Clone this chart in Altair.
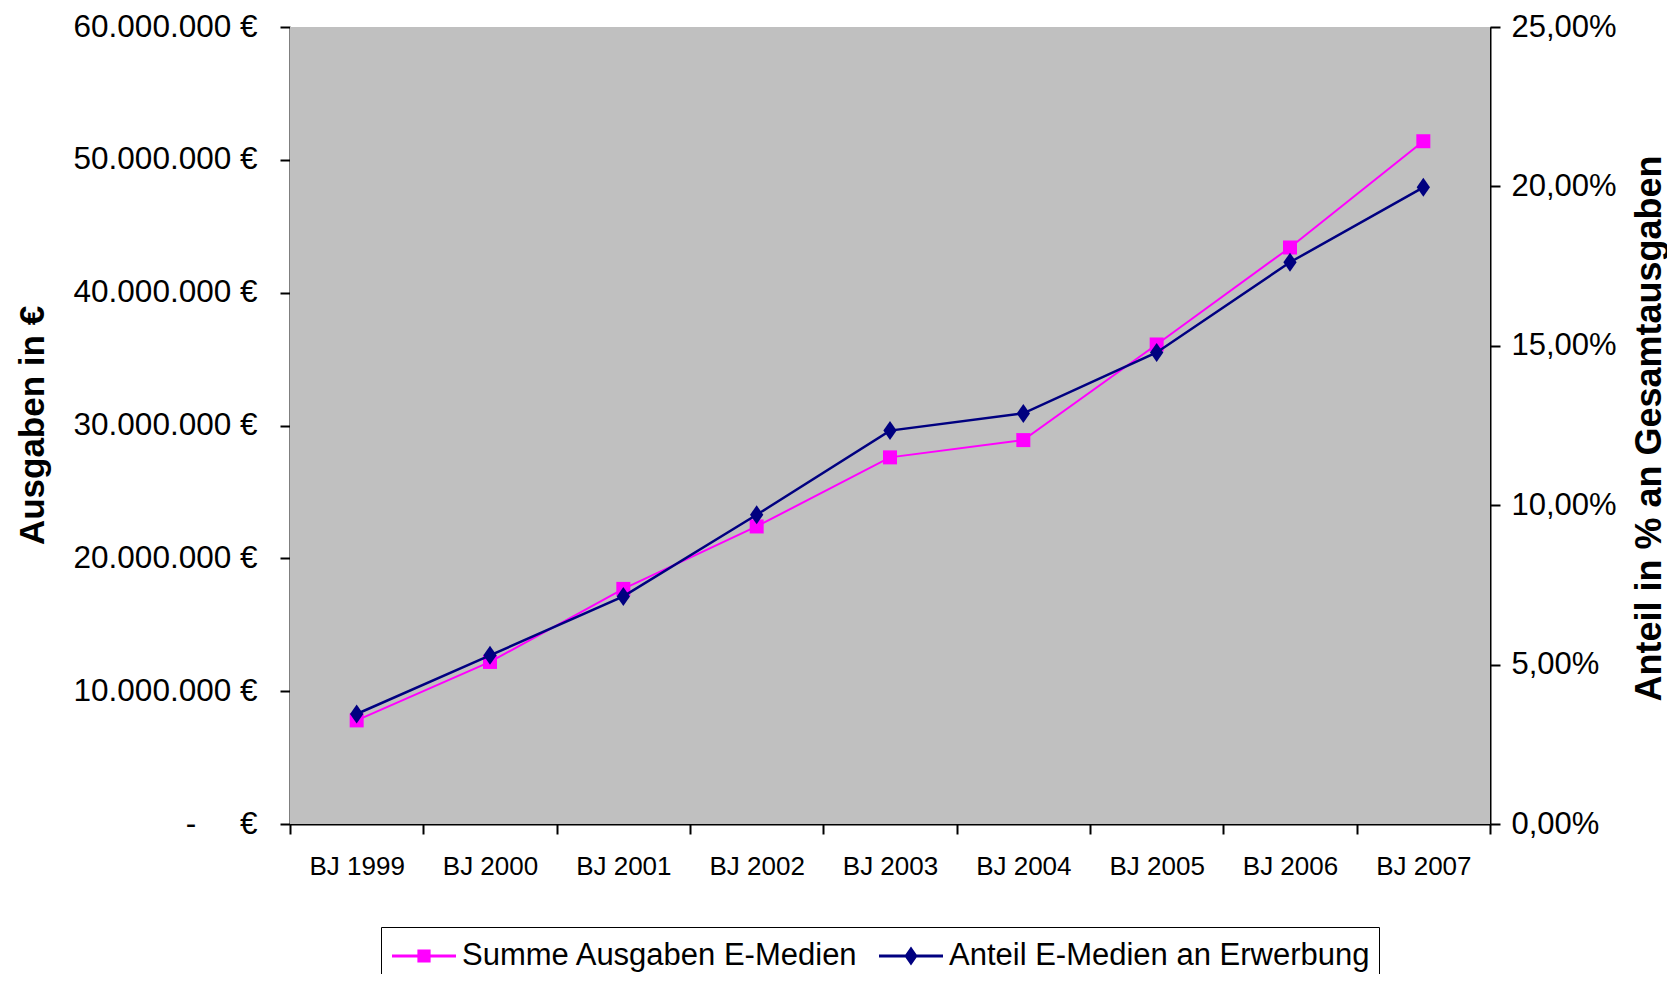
import altair as alt
import pandas as pd

years = ["BJ 1999", "BJ 2000", "BJ 2001", "BJ 2002", "BJ 2003",
         "BJ 2004", "BJ 2005", "BJ 2006", "BJ 2007"]
summe = [7800000, 12200000, 17700000, 22400000, 27600000,
         28900000, 36100000, 43400000, 51400000]
anteil = [3.45, 5.29, 7.14, 9.70, 12.34, 12.88, 14.79, 17.62, 19.97]

series_names = ["Summe Ausgaben E-Medien", "Anteil E-Medien an Erwerbung"]
series_colors = ["#FF00FF", "#000080"]

FONT = "Liberation Sans, Arial"

df = pd.DataFrame({"year": years, "summe": summe, "anteil": anteil})
legend_df = pd.DataFrame({"series": series_names})
plot_area_df = pd.DataFrame({"area": ["plot"]})

diamond = "M0,-1L0.7,0L0,1L-0.7,0Z"
leg_square = "M-0.9,-0.07H2.3V0.07H-0.9Z M0.37,-0.33H1.03V0.33H0.37Z"
leg_diamond = "M-0.9,-0.07H2.3V0.07H-0.9Z M0.7,-0.48L1.03,0L0.7,0.48L0.37,0Z"

x_enc = alt.X(
    "year:N", sort=years,
    scale=alt.Scale(type="band", paddingInner=0, paddingOuter=0),
    axis=alt.Axis(title=None, labelAngle=0, tickBand="extent", tickSize=10,
                  tickWidth=2, tickColor="black", domainWidth=2, domainColor="black",
                  labelPadding=19, labelFontSize=26, labelFont=FONT,
                  labelColor="black", grid=False),
)

left_lbl = ("datum.value == 0 ? '-\u00a0\u00a0\u00a0\u00a0\u00a0\u20ac' : "
            "format(datum.value / 1000000, 'd') + '.000.000 \u20ac'")
right_lbl = "replace(format(datum.value, '.2f'), '.', ',') + '%'"

# plot-area background (Excel grey)
background = alt.Chart(plot_area_df).mark_rect(color="#C0C0C0").encode(
    x=alt.value(0), x2=alt.value("width"),
    y=alt.value(0), y2=alt.value("height"),
)

base = alt.Chart(df).encode(x=x_enc)

line_summe = base.mark_line(
    color="#FF00FF", strokeWidth=2,
    point=alt.OverlayMarkDef(shape="square", size=196, filled=True,
                             color="#FF00FF", opacity=1),
).encode(
    y=alt.Y("summe:Q",
            scale=alt.Scale(domain=[0, 60000000], nice=False),
            axis=alt.Axis(title="Ausgaben in \u20ac",
                          values=[0, 10000000, 20000000, 30000000, 40000000, 50000000, 60000000],
                          labelExpr=left_lbl, grid=False, tickSize=10, tickWidth=2,
                          tickColor="black", domainWidth=2, domainColor="black",
                          labelPadding=23, labelFontSize=31.5, labelFont=FONT,
                          labelColor="black", labelLimit=400,
                          titleFont=FONT, titleFontWeight="bold", titleFontSize=35,
                          titleColor="black", titleAngle=270, titleBaseline="middle",
                          titleX=-258, titleY=398)),
)

line_anteil = base.mark_line(
    color="#000080", strokeWidth=2.5,
    point=alt.OverlayMarkDef(shape=diamond, size=361, filled=True,
                             color="#000080", opacity=1),
).encode(
    y=alt.Y("anteil:Q",
            scale=alt.Scale(domain=[0, 25], nice=False),
            axis=alt.Axis(title="Anteil in % an Gesamtausgaben", orient="right",
                          values=[0, 5, 10, 15, 20, 25],
                          labelExpr=right_lbl, grid=False, tickSize=10, tickWidth=2,
                          tickColor="black", domainWidth=2, domainColor="black",
                          labelPadding=11, labelFontSize=31, labelFont=FONT,
                          labelColor="black", labelLimit=400,
                          titleFont=FONT, titleFontWeight="bold", titleFontSize=36,
                          titleColor="black", titleAngle=270, titleBaseline="middle",
                          titleX=159, titleY=401)),
)

leg = alt.Legend(title=None, orient="none", legendX=91, legendY=900,
                 direction="horizontal", symbolSize=1600, symbolStrokeWidth=0,
                 symbolOpacity=1, labelFont=FONT, labelFontSize=31,
                 labelColor="black", labelLimit=800, labelOffset=32,
                 columnPadding=18, padding=9, strokeColor="black",
                 fillColor="white")

legend_layer = alt.Chart(legend_df).mark_point(filled=True, size=0, opacity=1).encode(
    color=alt.Color("series:N", sort=series_names,
                    scale=alt.Scale(domain=series_names, range=series_colors),
                    legend=leg),
    shape=alt.Shape("series:N", sort=series_names,
                    scale=alt.Scale(domain=series_names, range=[leg_square, leg_diamond]),
                    legend=leg),
)

chart = alt.layer(background, line_summe, line_anteil, legend_layer).resolve_scale(
    y="independent"
).properties(
    width=1200, height=797,
    autosize=alt.AutoSizeParams(type="none"),
    padding={"left": 282, "top": 19, "right": 177, "bottom": 150},
).configure_view(fill="#C0C0C0", stroke="#808080", strokeWidth=1)

chart.save("out.html", embed_options={"renderer": "svg", "actions": False})
